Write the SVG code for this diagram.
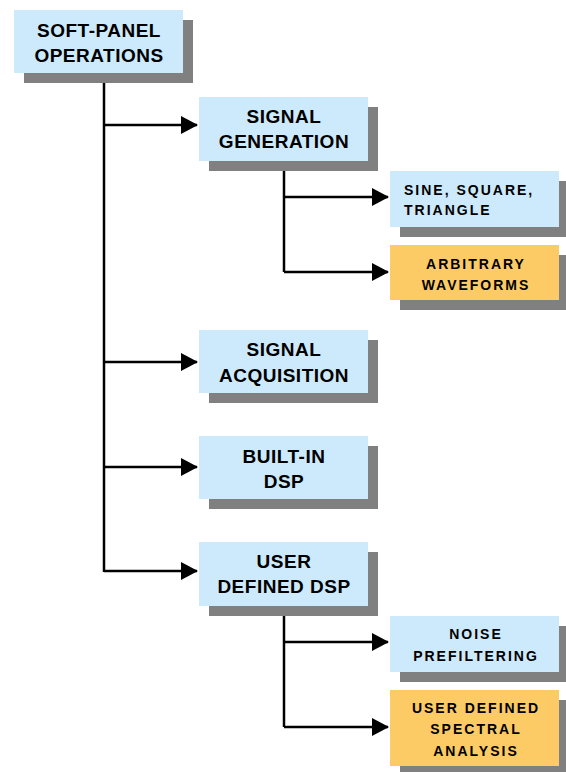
<svg xmlns="http://www.w3.org/2000/svg" width="566" height="772" viewBox="0 0 566 772">
<style>
.sh{fill:#808080}
.bl{fill:#CCEAFC}
.or{fill:#FCCB66}
.t{font-family:"Liberation Sans",Arial,sans-serif;font-weight:bold;font-size:19px;fill:#000;text-anchor:middle;letter-spacing:0.5px}
.s{font-family:"Liberation Sans",Arial,sans-serif;font-weight:bold;font-size:14px;fill:#000;text-anchor:middle;letter-spacing:2px}
.c{fill:none;stroke:#000;stroke-width:2.5}
</style>
<defs>
<marker id="ah" markerUnits="userSpaceOnUse" markerWidth="17" markerHeight="18" refX="16" refY="9" orient="auto">
<path d="M0,0 L17,9 L0,18 z" fill="#000"/>
</marker>
</defs>
<g id="connectors">
<path class="c" d="M104,83 V572"/>
<path class="c" d="M104,125 H197" marker-end="url(#ah)"/>
<path class="c" d="M104,362 H197" marker-end="url(#ah)"/>
<path class="c" d="M104,467 H197" marker-end="url(#ah)"/>
<path class="c" d="M104,571 H197" marker-end="url(#ah)"/>
<path class="c" d="M284,171 V272"/>
<path class="c" d="M284,197 H388" marker-end="url(#ah)"/>
<path class="c" d="M284,272 H388" marker-end="url(#ah)"/>
<path class="c" d="M284,606 V727"/>
<path class="c" d="M284,642 H388" marker-end="url(#ah)"/>
<path class="c" d="M284,727 H388" marker-end="url(#ah)"/>
</g>
<g id="root">
<rect class="sh" x="24" y="20" width="169" height="63"/>
<rect class="bl" x="14" y="10" width="169" height="63"/>
<text class="t" x="99" y="37">SOFT-PANEL</text>
<text class="t" x="99" y="62">OPERATIONS</text>
</g>
<g id="siggen">
<rect class="sh" x="209" y="107" width="169" height="64"/>
<rect class="bl" x="199" y="97" width="169" height="64"/>
<text class="t" x="284" y="123">SIGNAL</text>
<text class="t" x="284" y="148">GENERATION</text>
</g>
<g id="sine">
<rect class="sh" x="400" y="181" width="169" height="56"/>
<rect class="bl" x="390" y="171" width="169" height="56"/>
<text class="s" x="404" y="195" style="text-anchor:start">SINE, SQUARE,</text>
<text class="s" x="404" y="215" style="text-anchor:start">TRIANGLE</text>
</g>
<g id="arbitrary">
<rect class="sh" x="400" y="255" width="169" height="55"/>
<rect class="or" x="390" y="245" width="169" height="55"/>
<text class="s" x="476" y="269">ARBITRARY</text>
<text class="s" x="476" y="290">WAVEFORMS</text>
</g>
<g id="sigacq">
<rect class="sh" x="209" y="340" width="169" height="63"/>
<rect class="bl" x="199" y="330" width="169" height="63"/>
<text class="t" x="284" y="356">SIGNAL</text>
<text class="t" x="284" y="382">ACQUISITION</text>
</g>
<g id="builtin">
<rect class="sh" x="209" y="446" width="169" height="63"/>
<rect class="bl" x="199" y="436" width="169" height="63"/>
<text class="t" x="284" y="463">BUILT-IN</text>
<text class="t" x="284" y="488">DSP</text>
</g>
<g id="userdsp">
<rect class="sh" x="209" y="552" width="169" height="64"/>
<rect class="bl" x="199" y="542" width="169" height="64"/>
<text class="t" x="284" y="568">USER</text>
<text class="t" x="284" y="593">DEFINED DSP</text>
</g>
<g id="noise">
<rect class="sh" x="400" y="626" width="169" height="56"/>
<rect class="bl" x="390" y="616" width="169" height="56"/>
<text class="s" x="476" y="639">NOISE</text>
<text class="s" x="476" y="661">PREFILTERING</text>
</g>
<g id="spectral">
<rect class="sh" x="400" y="700" width="169" height="76"/>
<rect class="or" x="390" y="690" width="169" height="76"/>
<text class="s" x="476" y="713">USER DEFINED</text>
<text class="s" x="476" y="734">SPECTRAL</text>
<text class="s" x="476" y="756">ANALYSIS</text>
</g>
</svg>
